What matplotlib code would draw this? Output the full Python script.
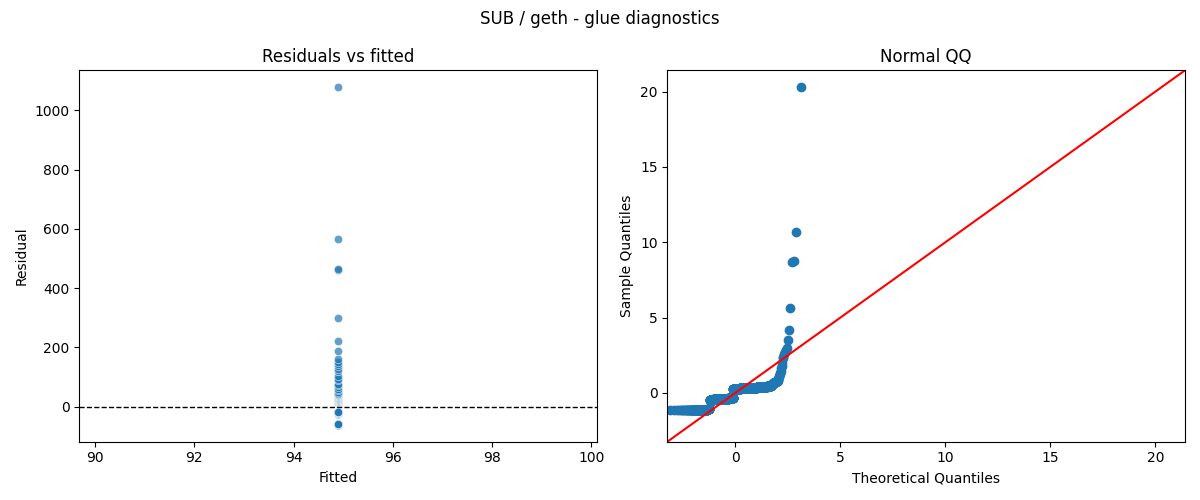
from statistics import NormalDist

import matplotlib

matplotlib.use("Agg")
import matplotlib.pyplot as plt
import numpy as np
import seaborn as sns

# fitted value of the intercept-only model (same for every row)
fitted_value = 94.9

# residual levels, with how many rows sit at each level
low_levels = [-61, -60, -59, -58, -57]
low_counts = [21, 27, 27, 23, 20]

mid_levels = [-23, -22, -21, -20, -19, -18]
mid_counts = [42, 75, 88, 77, 53, 43]

high_levels = [14, 15, 16, 17, 18, 19, 20, 21, 22, 24, 26]
high_counts = [64, 78, 78, 79, 64, 53, 43, 32, 21, 16, 10]

shoulder_levels = [28, 29, 30, 31, 32, 33, 34, 35, 36, 37, 38, 39, 40, 41, 42]
shoulder_counts = [1, 1, 1, 1, 1, 1, 1, 2, 2, 2, 2, 1, 2, 1, 2]

tail_values = [44, 47, 50, 55, 61, 66, 72, 77, 89, 94, 105, 122, 128, 136, 145]
outlier_values = [150, 160, 187, 222, 300, 460, 465, 567, 1078]


def build_residuals() -> np.ndarray:
    parts = [
        np.repeat(low_levels, low_counts),
        np.repeat(mid_levels, mid_counts),
        np.repeat(high_levels, high_counts),
        np.repeat(shoulder_levels, shoulder_counts),
        np.array(tail_values),
        np.array(outlier_values),
    ]
    return np.concatenate(parts).astype(float)


def qq_points(values: np.ndarray) -> tuple[np.ndarray, np.ndarray]:
    n = len(values)
    dist = NormalDist()
    probs = np.arange(1, n + 1) / (n + 1)
    theo = np.array([dist.inv_cdf(p) for p in probs])
    sample = (np.sort(values) - values.mean()) / values.std()
    return theo, sample


resid = build_residuals()
fitted = np.full(len(resid), fitted_value)

fig, axes = plt.subplots(1, 2, figsize=(12, 5))

ax = axes[0]
sns.scatterplot(x=fitted, y=resid, alpha=0.7, ax=ax)
ax.axhline(0, color="black", linestyle="--", linewidth=1)
ax.set_title("Residuals vs fitted")
ax.set_xlabel("Fitted")
ax.set_ylabel("Residual")

ax = axes[1]
ax.set_xmargin(0.02)
theo, sample = qq_points(resid)
ax.plot(theo, sample, marker="o", linestyle="none", markerfacecolor="C0", markeredgecolor="C0")
lo = min(ax.get_xlim()[0], ax.get_ylim()[0])
hi = max(ax.get_xlim()[1], ax.get_ylim()[1])
ax.plot([lo, hi], [lo, hi], "r")
ax.set_xlim(lo, hi)
ax.set_ylim(lo, hi)
ax.set_title("Normal QQ")
ax.set_xlabel("Theoretical Quantiles")
ax.set_ylabel("Sample Quantiles")

fig.suptitle("SUB / geth - glue diagnostics")
plt.tight_layout()
plt.savefig("out.png", dpi=100)
plt.close()
